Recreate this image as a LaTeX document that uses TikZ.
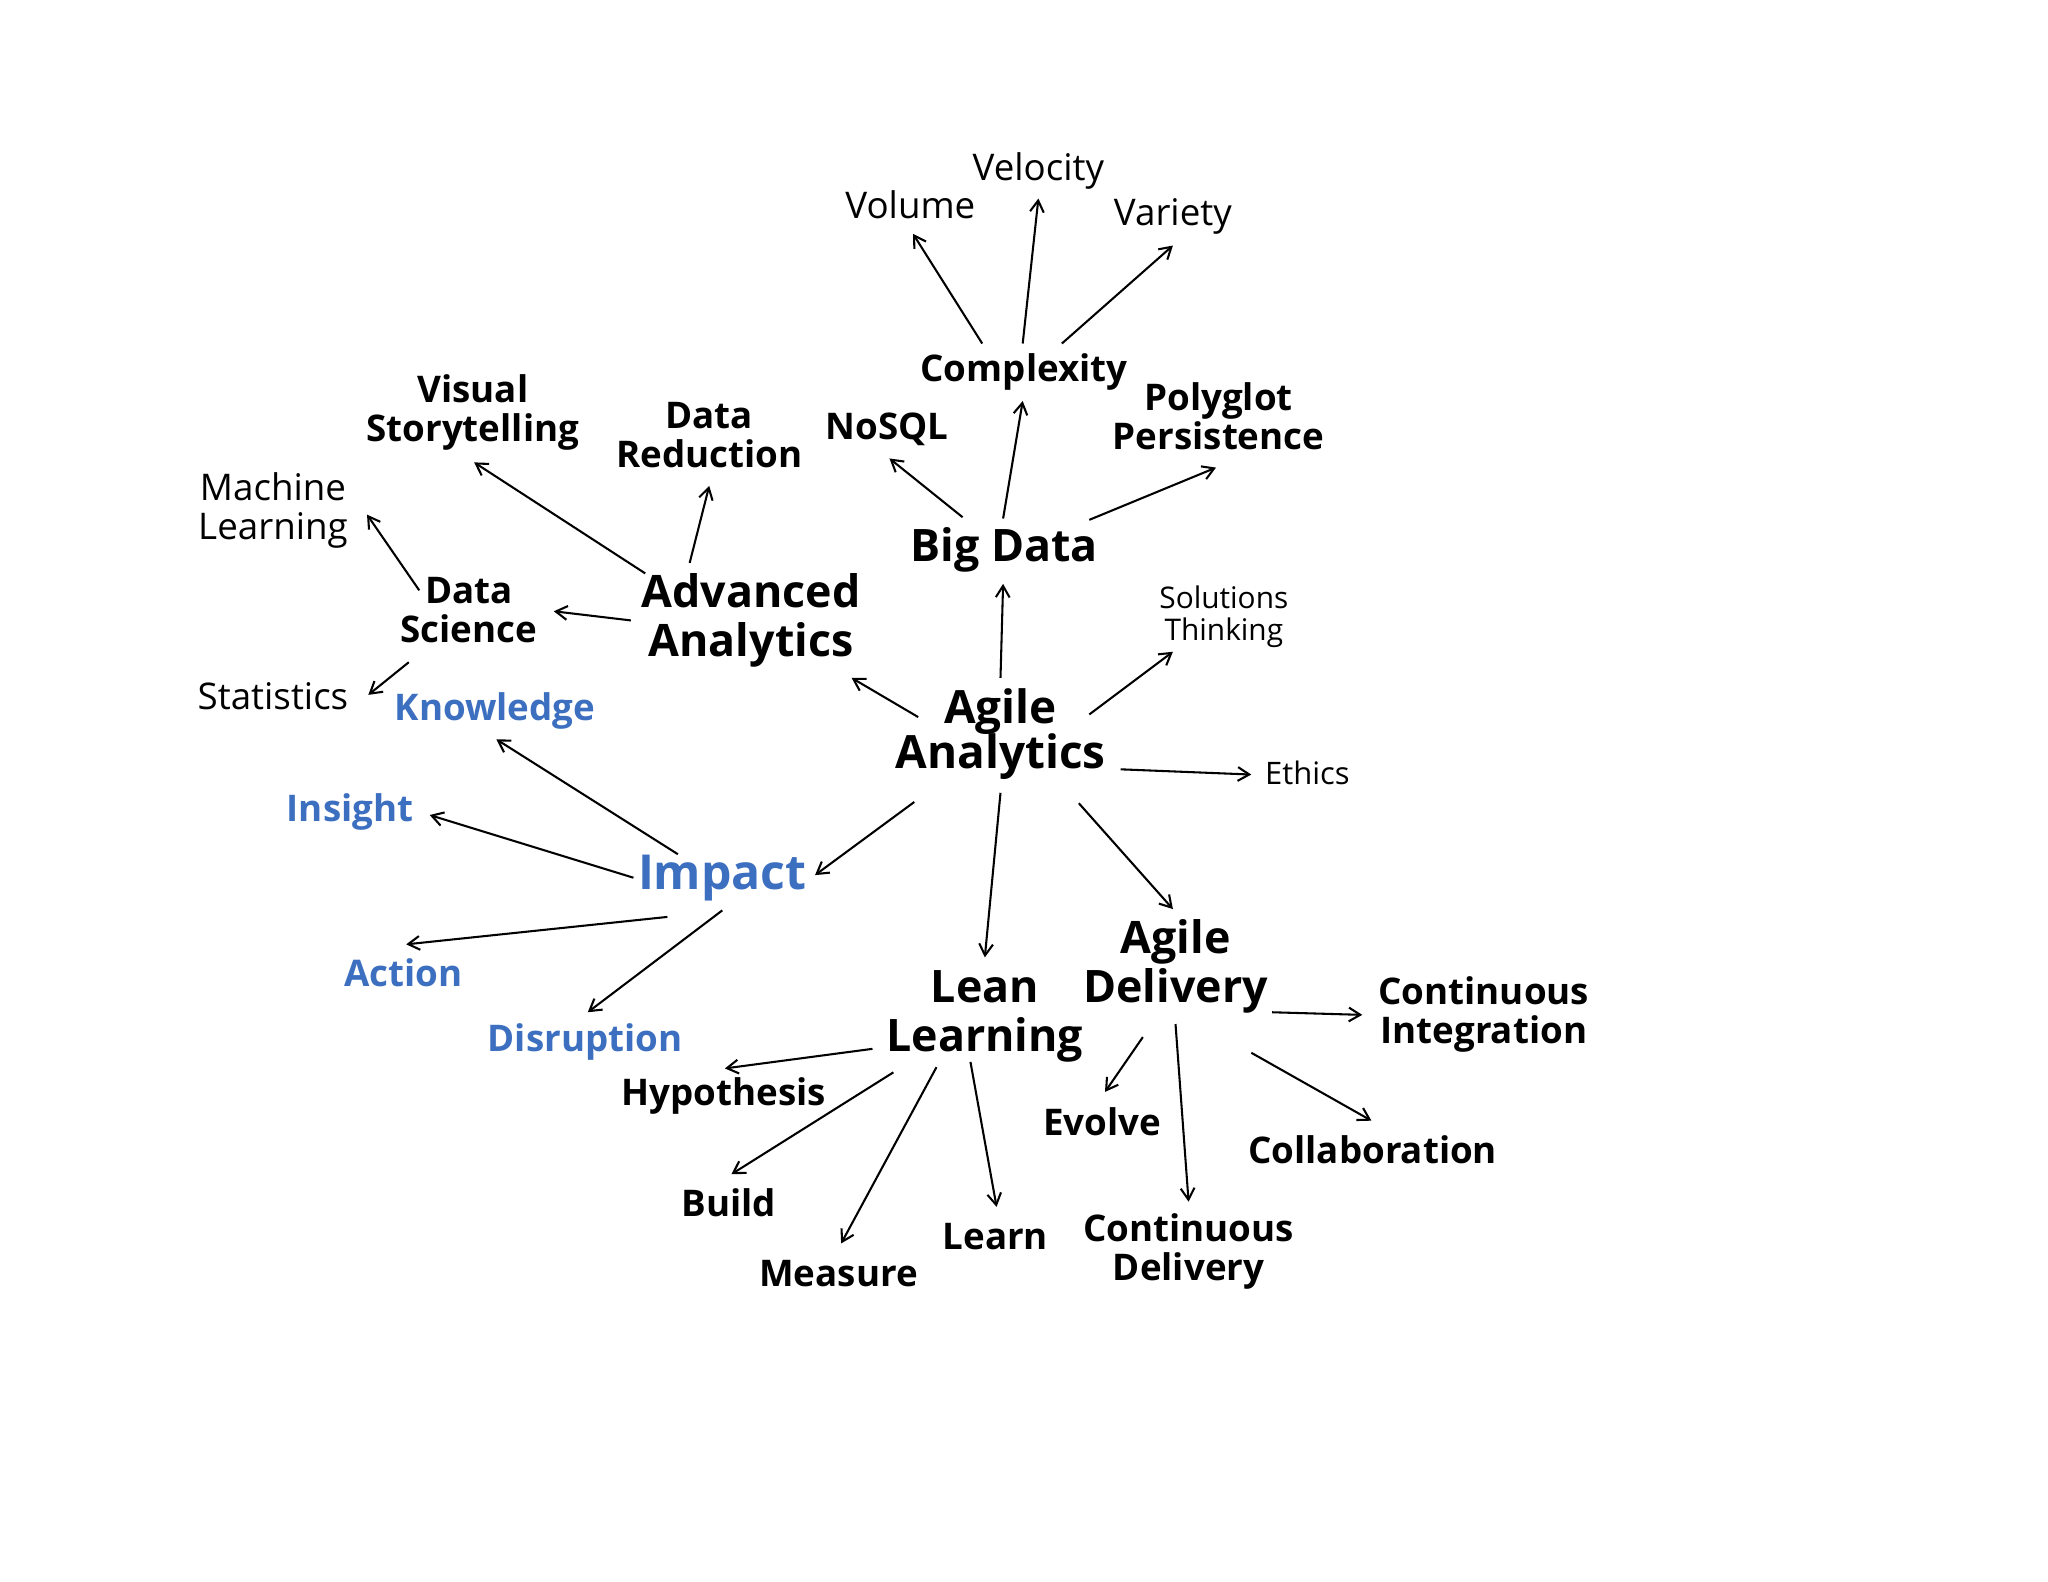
\documentclass[tikz,border=0pt]{standalone}
\usepackage{fontspec}
\setmainfont{Open Sans}
\usetikzlibrary{arrows.meta}
\definecolor{blu}{HTML}{3C6FC0}
\tikzset{
 t/.style={align=center,inner sep=0pt,font=\fontsize{16}{17}\selectfont},
 b/.style={t,font=\fontsize{16}{17}\selectfont\bfseries},
 B/.style={t,font=\fontsize{19.5}{21.5}\selectfont\bfseries},
 bl/.style={b,text=blu},
 s/.style={t,font=\fontsize{13}{14}\selectfont},
 ar/.style={-{Straight Barb[length=5pt,width=6pt]},line width=0.9pt}
}
\begin{document}
\begin{tikzpicture}[x=0.02cm,y=-0.02cm]
\useasboundingbox (0,0) rectangle (1568,1211);
\node[t] (vol) at (697,157) {Volume};
\node[t] (vel) at (795,131) {Velocity};
\node[t] (var) at (898,166) {Variety};
\node[b] (cx) at (784,285) {Complexity};
\node[b] (nosql) at (679,329) {NoSQL};
\node[b] (pp) at (933,319) {Polyglot\\Persistence};
\node[B] (bd) at (769,421) {Big Data};
\node[b] (vs) at (362,316) {Visual\\Storytelling};
\node[b] (dr) at (543,333) {Data\\Reduction};
\node[t] (ml) at (209,391) {Machine\\Learning};
\node[b] (ds) at (359,467) {Data\\Science};
\node[B] (aa) at (575,475) {Advanced\\Analytics};
\node[t] (st) at (209,533) {Statistics};
\node[bl] (kn) at (379,544) {Knowledge};
\node[s] (sol) at (937,472) {Solutions\\Thinking};
\node[B,font=\fontsize{20}{20}\selectfont\bfseries] (ag) at (766,562) {Agile\\Analytics};
\node[s,font=\fontsize{13.5}{14}\selectfont] (eth) at (1001,592) {Ethics};
\node[bl] (ins) at (268,622) {Insight};
\node[B,text=blu,font=\fontsize{21}{22}\selectfont\bfseries] (imp) at (553,672) {Impact};
\node[bl] (act) at (309,745) {Action};
\node[bl] (dis) at (448,798) {Disruption};
\node[B] (ad) at (900,740) {Agile\\Delivery};
\node[B] (ll) at (754,778) {Lean\\Learning};
\node[b] (ci) at (1136,777) {Continuous\\Integration};
\node[b] (hyp) at (554,839) {Hypothesis};
\node[b] (evo) at (844,859) {Evolve};
\node[b] (col) at (1051,880) {Collaboration};
\node[b] (bui) at (558,921) {Build};
\node[b] (lea) at (762,947) {Learn};
\node[b] (mea) at (642,975) {Measure};
\node[b] (cd) at (910,958) {Continuous\\Delivery};
\foreach \a/\b in {
 {752,263}/{699,179},{783,263}/{795,152},{813,263}/{898,188},
 {737,396}/{681,351},{768,397}/{783,307},{834,398}/{931,358},
 {766,519}/{768,447},{703,549}/{652,519},{834,547}/{898,499},{858,589}/{958,593},
 {700,614}/{624,670},{766,607}/{754,733},{826,615}/{898,696},
 {494,439}/{363,354},{528,431}/{543,372},{483,475}/{424,468},
 {321,452}/{281,394},{313,507}/{282,532},
 {519,654}/{380,566},{485,672}/{329,624},{511,702}/{311,723},{553,697}/{450,775},
 {668,803}/{555,818},{684,821}/{560,899},{717,817}/{644,952},{743,813}/{763,924},
 {974,775}/{1043,777},{875,794}/{846,836},{900,784}/{910,920},{958,806}/{1050,858}}
 \draw[ar] (\a) -- (\b);
\end{tikzpicture}
\end{document}
